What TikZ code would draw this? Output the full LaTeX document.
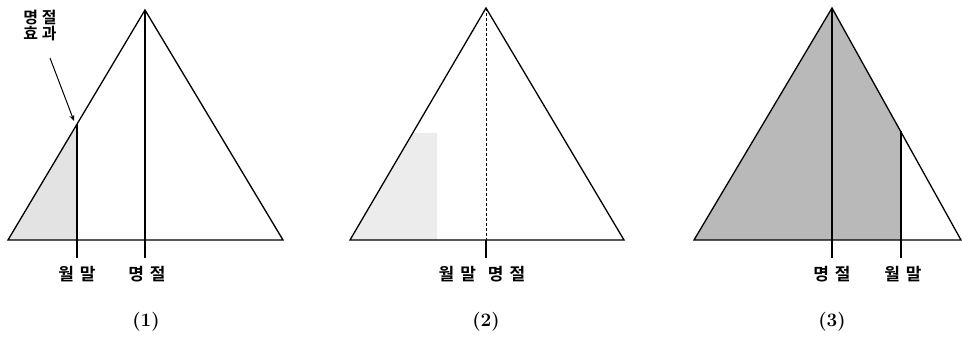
\documentclass[tikz,border=0pt]{standalone}
\usepackage{fontspec}
\newfontfamily\cjk{Noto Sans CJK KR}[BoldFont={* Bold}]
\usetikzlibrary{arrows.meta}
\newcommand{\gp}{\hspace{6pt}}
\begin{document}
\begin{tikzpicture}[x=1pt,y=-1pt,
  edge/.style={line width=1.3pt,black},
  lbl/.style={font=\cjk\bfseries\fontsize{17}{19}\selectfont,inner sep=1pt},
  num/.style={font=\bfseries\fontsize{19}{21}\selectfont,inner sep=1pt}]
\useasboundingbox (0,0) rectangle (962,340);
% ---------- panel 1 ----------
\coordinate (a1) at (145,10);
\coordinate (l1) at (8,240);
\coordinate (r1) at (283,240);
\coordinate (m1t) at (77,124);
\coordinate (m1b) at (77,258);
\coordinate (c1b) at (145,258);
\fill[gray!22] (l1) -- (m1t) -- (77,240) -- cycle;
\draw[edge] (l1) -- (a1) -- (r1) -- cycle;
\draw[edge] (a1) -- (c1b);
\draw[edge] (m1t) -- (m1b);
\node[lbl] (w1) at (77,274) {월\gp 말};
\node[lbl] (p1) at (147,274) {명\gp 절};
\node[num] (n1) at (146,322) {(1)};
\node[lbl,align=center,font=\cjk\bfseries\fontsize{16}{17}\selectfont] (e1) at (40,26) {명\hspace{4pt}절\\[-1pt]효\hspace{4pt}과};
\coordinate (tip1) at (74,121);
\draw[line width=1pt,-{Stealth[length=6pt,width=5pt]}] (50,58) -- (tip1);
% ---------- panel 2 ----------
\coordinate (a2) at (486,8);
\coordinate (l2) at (350,240);
\coordinate (r2) at (624,240);
\coordinate (c2b) at (486,258);
\fill[gray!15] (l2) -- (413,133) -- (437,133) -- (437,240) -- cycle;
\draw[edge] (l2) -- (a2) -- (r2) -- cycle;
\draw[line width=0.8pt,dashed,dash pattern=on 3pt off 2pt] (a2) -- (486,240);
\draw[edge] (486,240) -- (c2b);
\node[lbl] (w2) at (482,274) {월\gp 말\gp\gp 명\gp 절};
\node[num] (n2) at (486,322) {(2)};
% ---------- panel 3 ----------
\coordinate (a3) at (832,8);
\coordinate (l3) at (694,240);
\coordinate (r3) at (961,240);
\coordinate (m3t) at (901,131);
\coordinate (m3b) at (901,258);
\coordinate (c3b) at (832,258);
\fill[gray!55] (l3) -- (a3) -- (m3t) -- (901,240) -- cycle;
\draw[edge] (l3) -- (a3) -- (r3) -- cycle;
\draw[edge] (a3) -- (c3b);
\draw[edge] (m3t) -- (m3b);
\node[lbl] (p3) at (832,274) {명\gp 절};
\node[lbl] (w3) at (903,274) {월\gp 말};
\node[num] (n3) at (832,322) {(3)};
\end{tikzpicture}
\end{document}
